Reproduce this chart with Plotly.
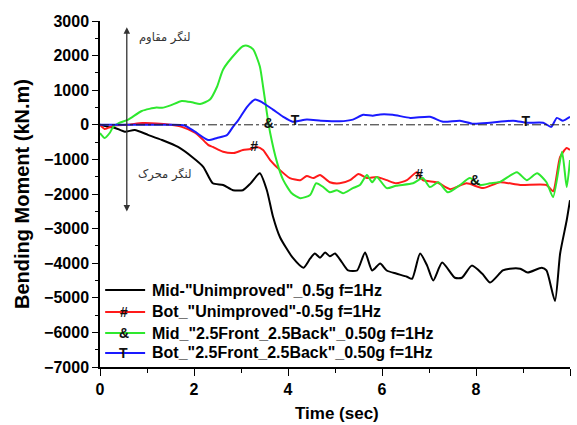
import numpy as np
import plotly.graph_objects as go

# ---------------- data ----------------
t_mid_unimp = [0, 0.17, 0.32, 0.53, 0.74, 1.02, 1.32, 1.66, 1.96, 2.2, 2.4, 2.62, 2.83, 3.04, 3.2, 3.4,
               3.55, 3.68, 3.83, 4.1, 4.33, 4.47, 4.57, 4.68, 4.79, 4.89, 5.0, 5.15, 5.28, 5.47, 5.64,
               5.79, 5.96, 6.1, 6.3, 6.53, 6.64, 6.81, 6.96, 7.09, 7.28, 7.55, 7.7, 7.91, 8.13, 8.3,
               8.57, 8.72, 8.94, 9.1, 9.4, 9.5, 9.68, 9.79, 9.93, 10]
v_mid_unimp = [0, -60, -90, -200, -150, -290, -440, -640, -930, -1220, -1690, -1740, -1890, -1890, -1700,
               -1400, -1890, -2650, -3250, -3840, -4130, -3870, -3720, -3840, -3690, -3800, -3720, -3980,
               -4210, -4210, -3690, -4210, -4010, -4210, -4300, -4390, -4450, -3720, -4070, -4500, -3980,
               -4420, -4420, -4070, -4300, -4560, -4210, -4160, -4160, -4270, -4130, -4210, -5090, -3720,
               -2760, -2180]

t_bot_unimp = [0, 0.1, 0.3, 0.6, 0.9, 1.2, 1.5, 1.74, 2.02, 2.13, 2.3, 2.4, 2.62, 2.85, 3.04, 3.2, 3.34,
               3.47, 3.62, 3.83, 4.04, 4.26, 4.4, 4.54, 4.68, 4.89, 5.1, 5.32, 5.5, 5.68, 5.89, 6.1, 6.3,
               6.53, 6.74, 6.87, 7.17, 7.45, 7.8, 8.15, 8.51, 8.94, 9.5, 9.64, 9.79, 9.93, 10]
v_bot_unimp = [0, -120, -20, 0, 50, 40, 0, -60, -230, -350, -580, -640, -780, -815, -730, -700, -640,
               -730, -1020, -1310, -1540, -1600, -1480, -1540, -1450, -1660, -1690, -1600, -1420, -1540,
               -1510, -1600, -1690, -1600, -1370, -1600, -1660, -1860, -1690, -1830, -1660, -1740, -1740,
               -1920, -930, -670, -730]

t_mid_imp = [0, 0.1, 0.21, 0.28, 0.4, 0.6, 0.89, 1.2, 1.32, 1.5, 1.74, 1.96, 2.13, 2.34, 2.49, 2.62, 2.9,
             3.04, 3.15, 3.26, 3.4, 3.47, 3.55, 3.62, 3.77, 3.9, 4.08, 4.26, 4.47, 4.6, 4.75, 4.89, 5.04,
             5.17, 5.38, 5.53, 5.68, 5.79, 5.89, 6.1, 6.3, 6.66, 6.87, 7.02, 7.2, 7.4, 7.66, 7.87, 8.09,
             8.3, 8.51, 8.87, 9.08, 9.3, 9.5, 9.64, 9.83, 9.93, 10]
v_mid_imp = [-240, -380, -230, -60, 50, 150, 400, 500, 490, 560, 690, 650, 600, 730, 1100, 1600, 2090,
             2270, 2280, 2180, 1690, 1100, 350, -230, -1100, -1600, -1980, -2120, -2030, -1690, -1800,
             -1950, -1890, -1980, -1830, -1740, -1450, -1660, -1510, -1830, -1760, -1690, -1540, -1800,
             -1660, -1950, -1740, -1540, -1740, -1690, -1650, -1370, -1600, -1400, -1660, -2090, -780,
             -1800, -1020]

t_bot_imp = [0, 0.5, 1.0, 1.5, 1.8, 2.02, 2.3, 2.49, 2.7, 2.83, 2.95, 3.13, 3.3, 3.45, 3.68, 3.9, 4.1,
             4.4, 4.7, 5.1, 5.38, 5.6, 5.8, 5.96, 6.23, 6.6, 7.02, 7.3, 7.66, 7.94, 8.3, 8.79, 9.08, 9.43,
             9.6, 9.72, 9.85, 10]
v_bot_imp = [0, 0, 0, 0, -20, -200, -440, -380, -300, -60, 150, 520, 730, 650, 440, 230, 90, 150, 120,
             100, 150, 290, 260, 300, 290, 200, 230, 90, 120, 30, 60, 120, 60, 60, -60, 200, 120, 230]

series_names = ['Mid-"Unimproved"_0.5g f=1Hz',
                'Bot_"Unimproved"-0.5g f=1Hz',
                'Mid_"2.5Front_2.5Back"_0.50g f=1Hz',
                'Bot_"2.5Front_2.5Back"_0.50g f=1Hz']
series_symbols = ['', '#', '&', 'T']
symbol_times = [[], [3.28, 6.79], [3.59, 7.98], [4.15, 9.06]]
series_colors = ['#000000', '#ff1a1a', '#2ee82e', '#1a1aff']

x_ticks = [0, 2, 4, 6, 8, 10]
y_ticks = [3000, 2000, 1000, 0, -1000, -2000, -3000, -4000, -5000, -6000, -7000]

label_resist = 'لنگر مقاوم'
label_drive = 'لنگر محرک'

# ---------------- figure ----------------
FONT = 'Liberation Sans, Arial, sans-serif'
fig = go.Figure()

all_t = [t_mid_unimp, t_bot_unimp, t_mid_imp, t_bot_imp]
all_v = [v_mid_unimp, v_bot_unimp, v_mid_imp, v_bot_imp]

# zero reference line (dash-dot)
fig.add_shape(type='line', xref='x', yref='y', x0=0, x1=10, y0=0, y1=0,
              line=dict(color='#222', width=1, dash='dashdot'))

for t, v, name, col in zip(all_t, all_v, series_names, series_colors):
    fig.add_trace(go.Scatter(x=t, y=v, mode='lines', name=name,
                             line=dict(color=col, width=2, shape='spline', smoothing=0.6),
                             showlegend=False))

for t, v, sym, times in zip(all_t, all_v, series_symbols, symbol_times):
    if not times:
        continue
    ys = np.interp(times, t, v)
    fig.add_trace(go.Scatter(x=times, y=ys, mode='text', text=[sym] * len(times),
                             textposition='middle center',
                             textfont=dict(family=FONT, size=14, color='#111', weight='bold'),
                             showlegend=False, hoverinfo='skip'))

# double headed arrow
fig.add_annotation(x=0.57, y=2820, ax=0.57, ay=-2550, xref='x', yref='y', axref='x', ayref='y',
                   text='', showarrow=True, arrowside='end+start', arrowhead=2, arrowsize=1,
                   arrowwidth=1.3, arrowcolor='#333')
fig.add_annotation(x=1.38, y=2530, xref='x', yref='y', text=label_resist, showarrow=False,
                   xanchor='center', yanchor='middle',
                   font=dict(family='DejaVu Sans, Noto Sans', size=11.5, color='#333'))
fig.add_annotation(x=1.38, y=-1450, xref='x', yref='y', text=label_drive, showarrow=False,
                   xanchor='center', yanchor='middle',
                   font=dict(family='DejaVu Sans, Noto Sans', size=11.5, color='#333'))

# manual legend
leg_rows = [0.2225, 0.159, 0.098, 0.0405]
for row, name, col, sym in zip(leg_rows, series_names, series_colors, series_symbols):
    fig.add_shape(type='line', xref='paper', yref='paper', x0=0.011, x1=0.096, y0=row, y1=row,
                  line=dict(color=col, width=2))
    if sym:
        fig.add_annotation(x=0.05, y=row, xref='paper', yref='paper', text=sym, showarrow=False,
                           xanchor='center', yanchor='middle',
                           font=dict(family=FONT, size=14, color='#111', weight='bold'))
    fig.add_annotation(x=0.106, y=row, xref='paper', yref='paper', text=name, showarrow=False,
                       xanchor='left', yanchor='middle',
                       font=dict(family=FONT, size=16, color='#000', weight='bold'))

# axis titles
fig.add_annotation(x=-(100 - 22) / 470, y=0.5, xref='paper', yref='paper', text='Bending Moment (kN.m)',
                   textangle=-90, showarrow=False, xanchor='center', yanchor='middle',
                   font=dict(family=FONT, size=20, color='#000', weight='bold'))
fig.add_annotation(x=(337 - 100) / 470, y=-(413 - 367) / 346, xref='paper', yref='paper',
                   text='Time (sec)', showarrow=False, xanchor='center', yanchor='middle',
                   font=dict(family=FONT, size=17, color='#000', weight='bold'))

fig.update_xaxes(range=[0, 10], tickvals=x_ticks, ticks='outside', ticklen=7, tickwidth=1.2,
                 showline=True, linecolor='#000', linewidth=1.5, showgrid=False, zeroline=False,
                 minor=dict(dtick=1, ticks='outside', ticklen=4, tickwidth=1, tickcolor='#000'),
                 tickcolor='#000',
                 tickfont=dict(family=FONT, size=16, color='#000', weight='bold'))
fig.update_yaxes(range=[-7000, 3000], tickvals=y_ticks, ticks='outside', ticklen=6, tickwidth=1.2,
                 showline=True, linecolor='#000', linewidth=1.5, showgrid=False, zeroline=False,
                 minor=dict(dtick=500, ticks='outside', ticklen=3, tickwidth=1, tickcolor='#000'),
                 tickcolor='#000',
                 tickfont=dict(family=FONT, size=16, color='#000', weight='bold'))

fig.update_layout(width=577, height=425, margin=dict(l=100, r=7, t=21, b=58),
                  plot_bgcolor='white', paper_bgcolor='white', showlegend=False)

fig.write_html('out.html')
